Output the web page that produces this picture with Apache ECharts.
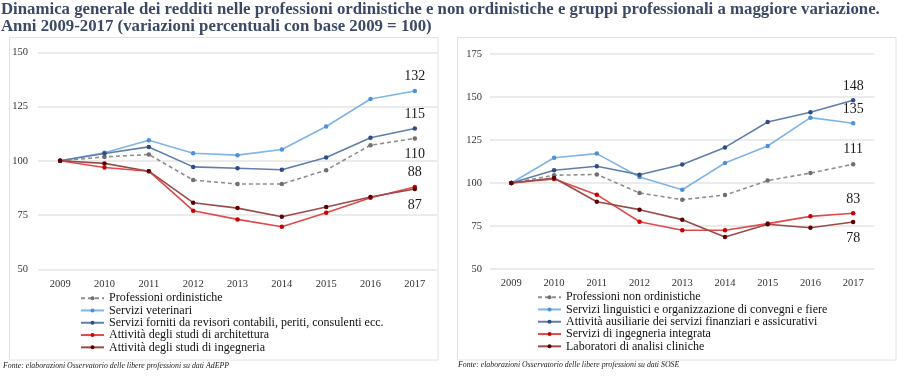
<!DOCTYPE html>
<html>
<head>
<meta charset="utf-8">
<script src="https://cdn.jsdelivr.net/npm/echarts@6/dist/echarts.min.js"></script>
<style>
html,body{margin:0;padding:0;background:#fff;}
#c{width:897px;height:385px;}
</style>
</head>
<body>
<div id="c"></div>
<script>
// ---- data ----
const years = ['2009','2010','2011','2012','2013','2014','2015','2016','2017'];

const leftNames = [
  'Professioni ordinistiche',
  'Servizi veterinari',
  'Servizi forniti da revisori contabili, periti, consulenti ecc.',
  'Attività degli studi di architettura',
  'Attività degli studi di ingegneria'
];
const leftOrdinistiche = [100, 101.8, 102.9, 91.1, 89.3, 89.3, 95.7, 107.2, 110.3];
const leftVeterinari   = [100, 103.7, 109.5, 103.5, 102.6, 105.2, 115.8, 128.5, 132.2];
const leftRevisori     = [100, 103.4, 106.4, 97.2, 96.6, 95.9, 101.5, 110.6, 114.9];
const leftArchitettura = [100, 96.9, 95.2, 77.0, 73.0, 69.6, 76.1, 83.0, 87.9];
const leftIngegneria   = [100, 98.8, 95.2, 80.7, 78.2, 74.2, 78.7, 83.3, 87.0];

const rightNames = [
  'Professioni non ordinistiche',
  'Servizi linguistici e organizzazione di convegni e fiere',
  'Attività ausiliarie dei servizi finanziari e assicurativi',
  'Servizi di ingegneria integrata',
  'Laboratori di analisi cliniche'
];
const rightNonOrdinistiche = [100, 104.5, 105.0, 94.2, 90.3, 93.0, 101.4, 105.8, 110.9];
const rightLinguistici     = [100, 114.7, 117.1, 103.5, 96.1, 111.6, 121.5, 138.0, 134.7];
const rightAusiliarie      = [100, 107.4, 109.7, 104.8, 110.7, 120.7, 135.5, 141.1, 148.1];
const rightIngegneria      = [100, 102.3, 93.2, 77.5, 72.5, 72.5, 76.4, 80.6, 82.4];
const rightLaboratori      = [100, 102.9, 89.1, 84.5, 78.7, 68.6, 76.0, 74.0, 77.3];

const leftEndLabels  = ['110', '132', '115', '88', '87'];
const rightEndLabels = ['111', '135', '148', '83', '78'];

const leftYTicks  = [50, 75, 100, 125, 150];
const rightYTicks = [50, 75, 100, 125, 150, 175];

// ---- styles ----
const serif = '"Liberation Serif", "DejaVu Serif", serif';
const styles = [
  {line:'#8e8e8e', mark:'#6f6f6f', dashed:true},
  {line:'#7fb4e6', mark:'#4d92d8'},
  {line:'#5f7eab', mark:'#2d4d86'},
  {line:'#e04a4a', mark:'#cc0000'},
  {line:'#9b4a4a', mark:'#5e0000'}
];
const leftLabelPos  = [['bottom',7],['top',5],['top',5],['top',5],['bottom',7]];
const rightLabelPos = [['top',6],['top',5],['top',5],['top',5],['bottom',7]];

function mk(name, values, idx, axis, endLabel, lp) {
  const st = styles[idx];
  const data = values.map((v, i) => {
    if (i === values.length - 1) {
      return {value: v, label: {show: true, formatter: endLabel, position: lp[0], distance: lp[1],
        fontFamily: serif, fontSize: 14, color: '#1a1a1a'}};
    }
    return v;
  });
  return {
    name: name, type: 'line', xAxisIndex: axis, yAxisIndex: axis,
    data: data, symbol: 'circle', symbolSize: 4.5, showSymbol: true,
    lineStyle: {color: st.line, width: 1.6, type: st.dashed ? [4,3] : 'solid'},
    itemStyle: {color: st.mark},
    emphasis: {disabled: true},
    animation: false, z: 3 + idx
  };
}

const leftData  = [leftOrdinistiche, leftVeterinari, leftRevisori, leftArchitettura, leftIngegneria];
const rightData = [rightNonOrdinistiche, rightLinguistici, rightAusiliarie, rightIngegneria, rightLaboratori];

const series = [];
leftData.forEach((d, i) => series.push(mk(leftNames[i], d, i, 0, leftEndLabels[i], leftLabelPos[i])));
rightData.forEach((d, i) => series.push(mk(rightNames[i], d, i, 1, rightEndLabels[i], rightLabelPos[i])));

const axisLabelStyle = {fontFamily: serif, fontSize: 10.5, color: '#333'};

function yAx(ticks, grid, margin) {
  return {
    type: 'value', gridIndex: grid,
    min: ticks[0], max: ticks[ticks.length - 1], interval: ticks[1] - ticks[0],
    axisLine: {show: false}, axisTick: {show: false},
    axisLabel: Object.assign({margin: margin}, axisLabelStyle),
    splitLine: {lineStyle: {color: '#e4e4e4', width: 1.5}}
  };
}
function xAx(grid) {
  return {
    type: 'category', gridIndex: grid, data: years, boundaryGap: true,
    axisLine: {show: false}, axisTick: {show: false},
    axisLabel: Object.assign({margin: 9}, axisLabelStyle)
  };
}

const legendCommon = {
  orient: 'vertical', itemWidth: 23, itemHeight: 5, itemGap: 0,
  textStyle: {fontFamily: serif, fontSize: 12, color: '#111', lineHeight: 12.3},
  selectedMode: false
};

const option = {
  backgroundColor: '#fff',
  animation: false,
  title: [
    {text: 'Dinamica generale dei redditi nelle professioni ordinistiche e non ordinistiche e gruppi professionali a maggiore variazione.\nAnni 2009-2017 (variazioni percentuali con base 2009 = 100)',
     left: 1, top: 1, padding: 0,
     textStyle: {fontFamily: serif, fontWeight: 'bold', fontSize: 16.8, color: '#3b4966', lineHeight: 17}},
    {text: 'Fonte: elaborazioni Osservatorio delle libere professioni su dati AdEPP', left: 3, top: 362, padding: 0,
     textStyle: {fontFamily: serif, fontStyle: 'italic', fontSize: 7.8, fontWeight: 'normal', color: '#222'}},
    {text: 'Fonte: elaborazioni Osservatorio delle libere professioni su dati SOSE', left: 458, top: 361, padding: 0,
     textStyle: {fontFamily: serif, fontStyle: 'italic', fontSize: 7.8, fontWeight: 'normal', color: '#222'}}
  ],
  grid: [
    {left: 38, right: 460, top: 52.3, bottom: 115.7, containLabel: false},
    {left: 490, right: 22.5, top: 54, bottom: 116, containLabel: false}
  ],
  xAxis: [xAx(0), xAx(1)],
  yAxis: [yAx(leftYTicks, 0, 10), yAx(rightYTicks, 1, 8)],
  legend: [
    Object.assign({data: leftNames, left: 80, top: 292, padding: 0}, legendCommon),
    Object.assign({data: rightNames, left: 537, top: 291, padding: 0}, legendCommon)
  ],
  graphic: [
    {type: 'rect', shape: {x: 9.5, y: 37.5, width: 428.5, height: 322.5}, silent: true, z: -1,
     style: {fill: 'none', stroke: '#e2e2e2', lineWidth: 1}},
    {type: 'rect', shape: {x: 457.5, y: 37.5, width: 438.5, height: 322.5}, silent: true, z: -1,
     style: {fill: 'none', stroke: '#e2e2e2', lineWidth: 1}}
  ],
  series: series
};

const chart = echarts.init(document.getElementById('c'), null, {renderer: 'canvas'});
chart.setOption(option);
</script>
</body>
</html>
